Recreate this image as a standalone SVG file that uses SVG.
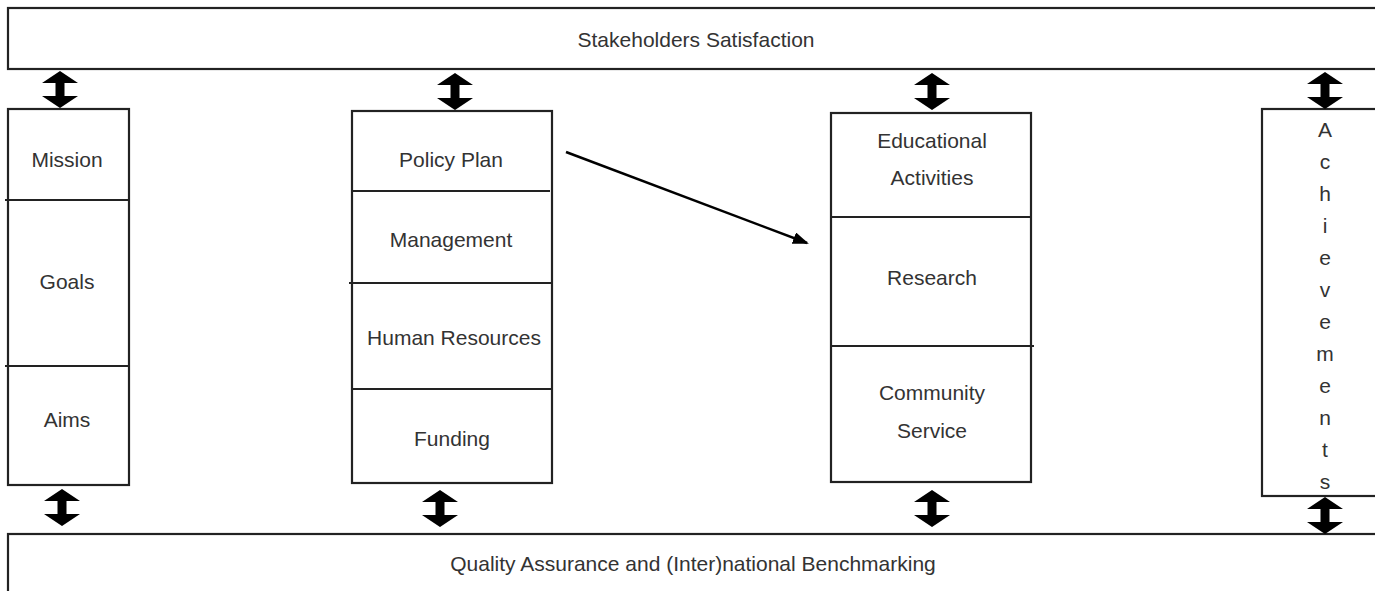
<svg xmlns="http://www.w3.org/2000/svg" width="1375" height="591" viewBox="0 0 1375 591">
<style>
.box{fill:#fff;stroke:#222;stroke-width:2.2}
.div{stroke:#222;stroke-width:2.2}
.t{font-family:"Liberation Sans",Arial,sans-serif;font-size:21px;fill:#333;text-anchor:middle}
.conn{stroke:#000;stroke-width:2.5;fill:none}
</style>
<defs>
<path id="dbl" d="M0,0 L18,12 L4.5,12 L4.5,25 L18,25 L0,37 L-18,25 L-4.5,25 L-4.5,12 L-18,12 Z" fill="#000"/>
<marker id="ah" markerWidth="16" markerHeight="12" refX="14" refY="6" orient="auto" markerUnits="userSpaceOnUse" viewBox="0 0 16 12">
<path d="M0,0 L16,6 L0,12 Z" fill="#000"/>
</marker>
</defs>
<g id="stakeholders">
<rect class="box" x="8" y="8" width="1400" height="61"/>
<text class="t" x="696" y="47">Stakeholders Satisfaction</text>
</g>
<g id="quality">
<rect class="box" x="8" y="534" width="1400" height="100"/>
<text class="t" x="693" y="571">Quality Assurance and (Inter)national Benchmarking</text>
</g>
<g id="col-mission">
<rect class="box" x="8" y="109" width="121" height="376"/>
<line class="div" x1="5" y1="200" x2="129" y2="200"/>
<line class="div" x1="5" y1="366" x2="129" y2="366"/>
<text class="t" x="67" y="167">Mission</text>
<text class="t" x="67" y="289">Goals</text>
<text class="t" x="67" y="427">Aims</text>
</g>
<g id="col-policy">
<rect class="box" x="352" y="111" width="200" height="372"/>
<line class="div" x1="352" y1="191" x2="550" y2="191"/>
<line class="div" x1="349" y1="283" x2="552" y2="283"/>
<line class="div" x1="352" y1="389" x2="552" y2="389"/>
<text class="t" x="451" y="167">Policy Plan</text>
<text class="t" x="451" y="247">Management</text>
<text class="t" x="454" y="345">Human Resources</text>
<text class="t" x="452" y="446">Funding</text>
</g>
<g id="col-activities">
<rect class="box" x="831" y="113" width="200" height="369"/>
<line class="div" x1="831" y1="217" x2="1031" y2="217"/>
<line class="div" x1="831" y1="346" x2="1034" y2="346"/>
<text class="t" x="932" y="148">Educational</text>
<text class="t" x="932" y="185">Activities</text>
<text class="t" x="932" y="285">Research</text>
<text class="t" x="932" y="400">Community</text>
<text class="t" x="932" y="438">Service</text>
</g>
<g id="col-achievements">
<rect class="box" x="1262" y="109" width="200" height="387"/>
<text class="t" x="1325" y="137">A</text>
<text class="t" x="1325" y="169">c</text>
<text class="t" x="1325" y="201">h</text>
<text class="t" x="1325" y="233">i</text>
<text class="t" x="1325" y="265">e</text>
<text class="t" x="1325" y="297">v</text>
<text class="t" x="1325" y="329">e</text>
<text class="t" x="1325" y="361">m</text>
<text class="t" x="1325" y="393">e</text>
<text class="t" x="1325" y="425">n</text>
<text class="t" x="1325" y="457">t</text>
<text class="t" x="1325" y="489">s</text>
</g>
<g id="connectors">
<use href="#dbl" x="60" y="71"/>
<use href="#dbl" x="455" y="73"/>
<use href="#dbl" x="932" y="73"/>
<use href="#dbl" x="1325" y="72"/>
<use href="#dbl" x="62" y="489"/>
<use href="#dbl" x="440" y="490"/>
<use href="#dbl" x="932" y="490"/>
<use href="#dbl" x="1325" y="497"/>
<line class="conn" x1="566" y1="152" x2="807" y2="243" marker-end="url(#ah)"/>
</g>
</svg>
